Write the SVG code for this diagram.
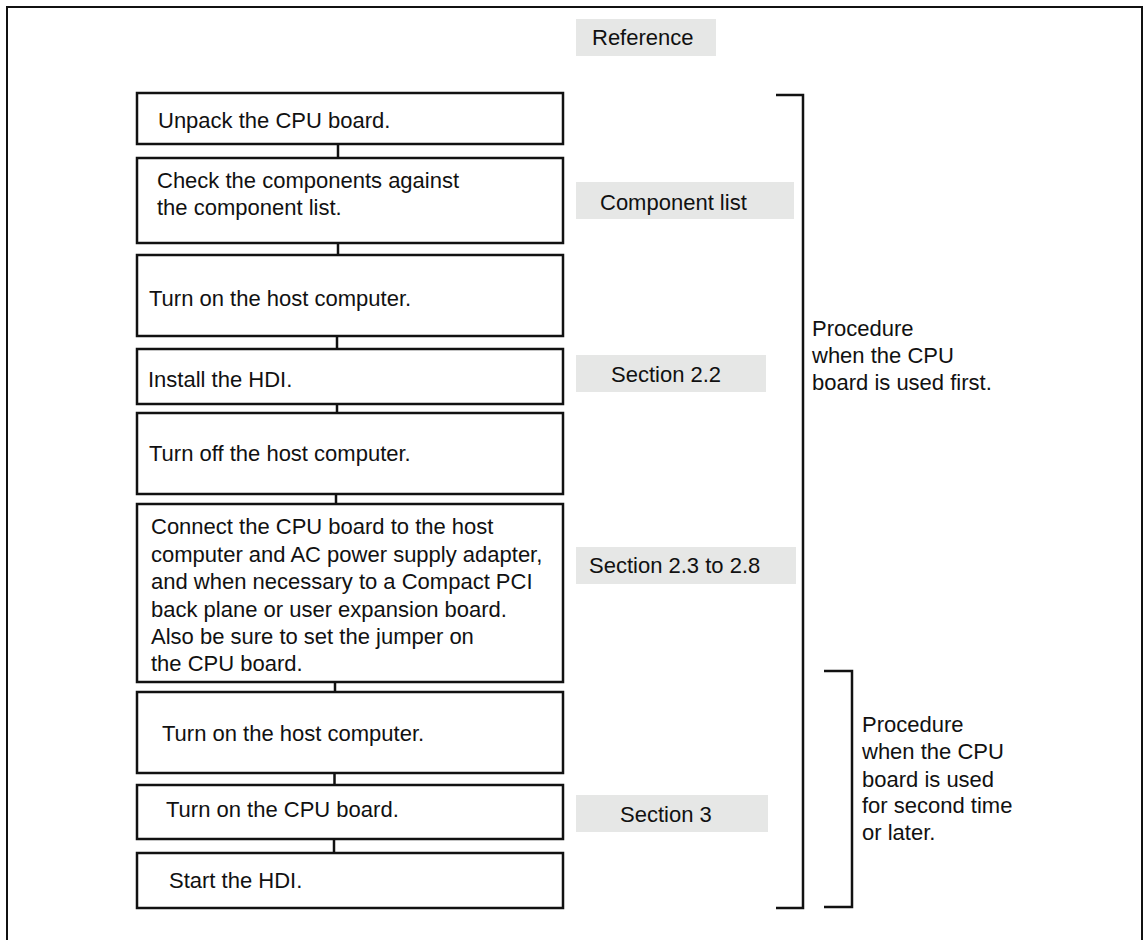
<svg xmlns="http://www.w3.org/2000/svg" width="1145" height="940" viewBox="0 0 1145 940">
<style>
text{font-family:"Liberation Sans",Arial,sans-serif;font-size:22px;fill:#111}
.box{fill:#fff;stroke:#111;stroke-width:2.5}
.ref{fill:#e6e7e6;stroke:none}
.ln{stroke:#111;stroke-width:2.5;fill:none}
.frame{stroke:#111;stroke-width:2;fill:none}
</style>
<rect width="1145" height="940" fill="#fff"/>
<path class="frame" d="M7,940 V7 H1142 V940"/>
<g id="connectors">
<line class="ln" x1="338" y1="144" x2="338" y2="158"/>
<line class="ln" x1="338" y1="243" x2="338" y2="255"/>
<line class="ln" x1="337" y1="336" x2="337" y2="349"/>
<line class="ln" x1="337" y1="404" x2="337" y2="413"/>
<line class="ln" x1="336" y1="494" x2="336" y2="504"/>
<line class="ln" x1="335" y1="682" x2="335" y2="692"/>
<line class="ln" x1="334.5" y1="773" x2="334.5" y2="785"/>
<line class="ln" x1="334" y1="839" x2="334" y2="853"/>
</g>
<g id="step1"><rect class="box" x="137" y="93" width="426" height="51"/><text x="158" y="128">Unpack the CPU board.</text></g>
<g id="step2"><rect class="box" x="137" y="158" width="426" height="85"/><text x="157" y="188">Check the components against</text><text x="157" y="215">the component list.</text></g>
<g id="step3"><rect class="box" x="137" y="255" width="426" height="81"/><text x="149" y="306">Turn on the host computer.</text></g>
<g id="step4"><rect class="box" x="137" y="349" width="426" height="55"/><text x="148" y="387">Install the HDI.</text></g>
<g id="step5"><rect class="box" x="137" y="413" width="426" height="81"/><text x="149" y="461">Turn off the host computer.</text></g>
<g id="step6"><rect class="box" x="137" y="504" width="426" height="178"/>
<text x="151" y="534">Connect the CPU board to the host</text>
<text x="151" y="562">computer and AC power supply adapter,</text>
<text x="151" y="589">and when necessary to a Compact PCI</text>
<text x="151" y="617">back plane or user expansion board.</text>
<text x="151" y="644">Also be sure to set the jumper on</text>
<text x="151" y="671">the CPU board.</text></g>
<g id="step7"><rect class="box" x="137" y="692" width="426" height="81"/><text x="162" y="741">Turn on the host computer.</text></g>
<g id="step8"><rect class="box" x="137" y="785" width="426" height="54"/><text x="166" y="817">Turn on the CPU board.</text></g>
<g id="step9"><rect class="box" x="137" y="853" width="426" height="55"/><text x="169" y="888">Start the HDI.</text></g>
<g id="ref-header"><rect class="ref" x="576" y="19" width="140" height="37"/><text x="592" y="45">Reference</text></g>
<g id="ref-components"><rect class="ref" x="576" y="182" width="218" height="37"/><text x="600" y="210">Component list</text></g>
<g id="ref-s22"><rect class="ref" x="576" y="355" width="190" height="37"/><text x="611" y="382">Section 2.2</text></g>
<g id="ref-s23"><rect class="ref" x="576" y="547" width="220" height="37"/><text x="589" y="573">Section 2.3 to 2.8</text></g>
<g id="ref-s3"><rect class="ref" x="576" y="795" width="192" height="37"/><text x="620" y="822">Section 3</text></g>
<g id="bracket-first">
<path class="ln" d="M776,95 H803 V908 H776"/>
<text x="812" y="336">Procedure</text>
<text x="812" y="363">when the CPU</text>
<text x="812" y="390">board is used first.</text>
</g>
<g id="bracket-second">
<path class="ln" d="M824,671 H852 V907 H824"/>
<text x="862" y="732">Procedure</text>
<text x="862" y="759">when the CPU</text>
<text x="862" y="787">board is used</text>
<text x="862" y="813">for second time</text>
<text x="862" y="840">or later.</text>
</g>
</svg>
